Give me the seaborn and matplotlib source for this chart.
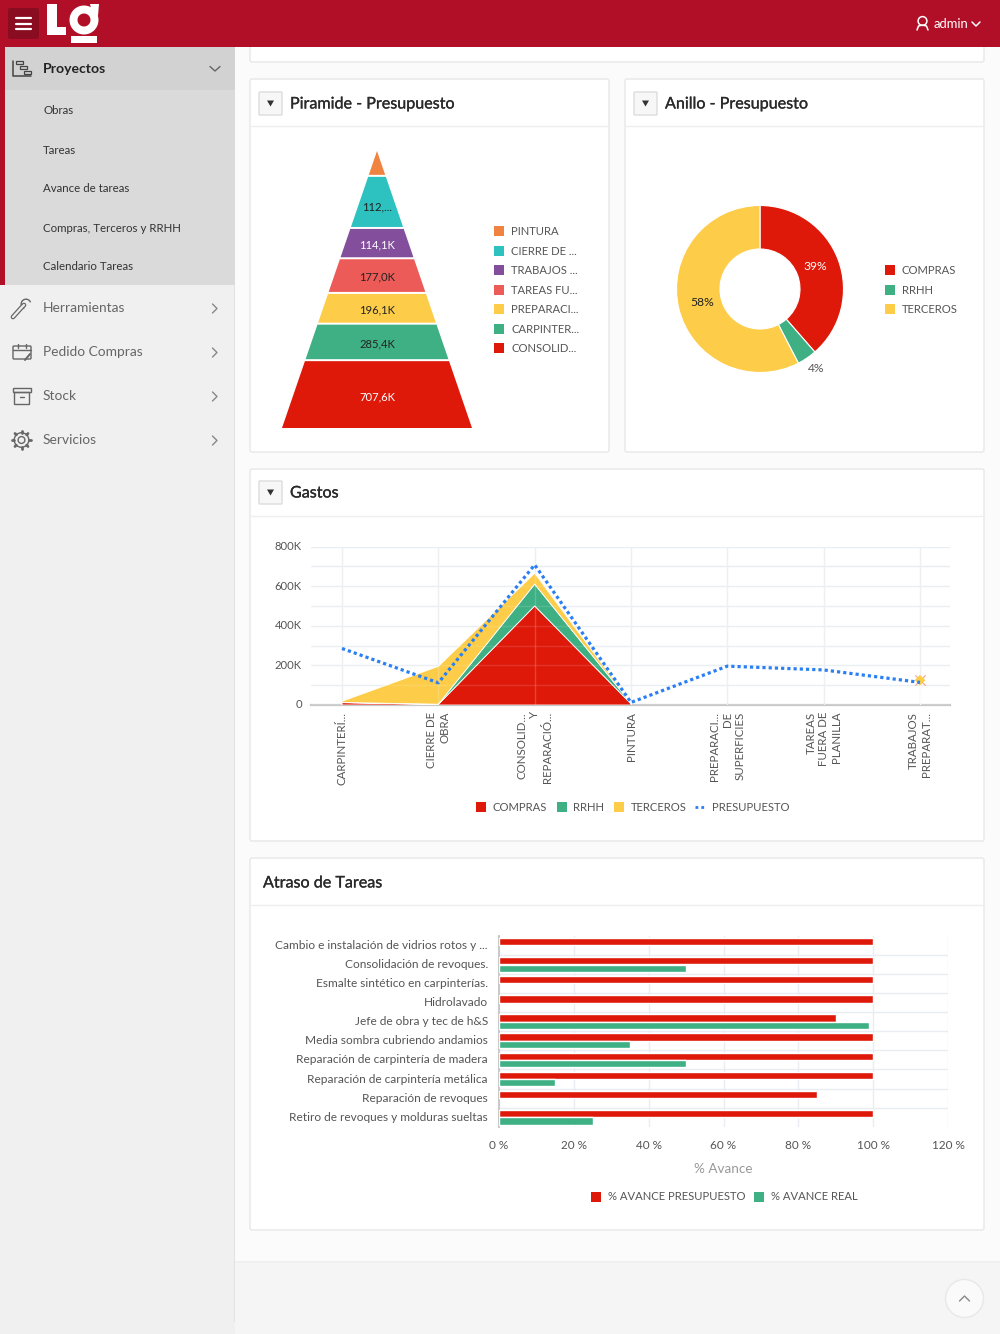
import matplotlib
matplotlib.use("Agg")
import matplotlib.pyplot as plt
import matplotlib.patheffects as pe
from matplotlib.transforms import ScaledTranslation
import numpy as np
import pandas as pd
import seaborn as sns
from matplotlib.patches import Rectangle, Circle, Polygon, Wedge, FancyBboxPatch

# colours
RED = '#de190a'
GREEN = '#3eb084'
YELLOW = '#fdcd49'
CORAL = '#ec5b57'
PURPLE = '#834e9c'
TEAL = '#2dc1bf'
ORANGE = '#f0833f'
BLUE = '#2a7ff5'
HEADER = '#b00f27'
TXT = '#555555'
GRID = '#e9edf1'

# pyramid
pyr_labels = ['PINTURA', 'CIERRE DE ...', 'TRABAJOS ...', 'TAREAS FU...', 'PREPARACI...', 'CARPINTER...', 'CONSOLID...']
pyr_values = [13.0, 112.0, 114.1, 177.0, 196.1, 285.4, 707.6]
pyr_text = ['', '112,...', '114,1K', '177,0K', '196,1K', '285,4K', '707,6K']
pyr_colors = [ORANGE, TEAL, PURPLE, CORAL, YELLOW, GREEN, RED]
pyr_txtcol = ['#222222', '#222222', 'white', '#222222', '#222222', '#222222', 'white']

# ring
ring_labels = ['COMPRAS', 'RRHH', 'TERCEROS']
ring_values = [38.6, 3.8, 57.6]
ring_text = ['39%', '4%', '58%']

# gastos
gastos_cat = ['CARPINTERÍ...', 'CIERRE DE\nOBRA', 'CONSOLID...\nY\nREPARACIÓ...', 'PINTURA',
              'PREPARACI...\nDE\nSUPERFICIES', 'TAREAS\nFUERA DE\nPLANILLA', 'TRABAJOS\nPREPARAT...']
compras = [12, 3, 500, 6, np.nan, np.nan, 0]
rrhh = [1, 1, 110, 2, np.nan, np.nan, 0]
terceros = [6, 191, 55, 2, np.nan, np.nan, 125]
presupuesto = [285.4, 112, 707.6, 13, 196.1, 177, 114.1]
gastos_ticks = [0, 200, 400, 600, 800]
gastos_ticklabels = ['0', '200K', '400K', '600K', '800K']

# atraso
tareas = ['Cambio e instalación de vidrios rotos y ...', 'Consolidación de revoques.',
          'Esmalte sintético en carpinterías.', 'Hidrolavado', 'Jefe de obra y tec de h&S',
          'Media sombra cubriendo andamios', 'Reparación de carpintería de madera',
          'Reparación de carpintería metálica', 'Reparación de revoques',
          'Retiro de revoques y molduras sueltas']
av_presu = [100, 100, 100, 100, 90, 100, 100, 100, 85, 100]
av_real = [np.nan, 50, np.nan, np.nan, 99, 35, 50, 15, np.nan, 25]

menu_sub = ['Obras', 'Tareas', 'Avance de tareas', 'Compras, Terceros y RRHH', 'Calendario Tareas']
menu_main = ['Herramientas', 'Pedido Compras', 'Stock', 'Servicios']

sns.set_theme(style='white')
plt.rcParams['font.family'] = ['Lato', 'DejaVu Sans']

fig = plt.figure(figsize=(10, 13.34), dpi=100)
W, H = 1000, 1334


def px_axes(l, t, r, b, z=2):
    ax = fig.add_axes([l / W, 1 - b / H, (r - l) / W, (b - t) / H], zorder=z)
    ax.patch.set_alpha(0)
    return ax


def fs(px):
    return px * 0.72


bg = px_axes(0, 0, W, H, z=0)
bg.set_xlim(0, W)
bg.set_ylim(H, 0)
bg.axis('off')


def rect(x0, y0, x1, y1, c, ax=bg, **kw):
    ax.add_patch(Rectangle((x0, y0), x1 - x0, y1 - y0, facecolor=c, edgecolor='none', **kw))


def stroke(xs, ys, c='#666666', lw=1.1, ax=bg):
    ax.plot(xs, ys, color=c, lw=lw, solid_capstyle='round', solid_joinstyle='round')


# page
rect(0, 0, W, H, '#fbfbfb')
rect(235, 1262, W, H, '#f5f5f5')
rect(235, 1261, W, 1263, '#f0f0f0')
rect(0, 0, 235, H, '#f0f0f0')
rect(233.5, 47, 235, 1322, '#e2e2e2')
rect(0, 47, 235, 285, '#dadada')
rect(5, 47, 235, 90, '#d2d2d2')
rect(0, 47, 5, 285, HEADER)


def card(x0, y0, x1, y1, sep=None):
    bg.add_patch(FancyBboxPatch((x0, y0), x1 - x0, y1 - y0, boxstyle='round,pad=0,rounding_size=2',
                                facecolor='white', edgecolor='#e8e8e8', lw=1))
    if sep:
        bg.plot([x0, x1], [sep, sep], color='#eeeeee', lw=1)


card(250, 30, 984, 62)
card(250, 79, 609, 452, 126)
card(625, 79, 984, 452, 126)
card(250, 469, 984, 841, 516)
card(250, 858, 984, 1230, 905)
rect(0, 0, W, 47, HEADER, zorder=3)

# header widgets
bg.add_patch(FancyBboxPatch((8, 8), 31, 31, boxstyle='round,pad=0,rounding_size=2', facecolor='#8a0c20', edgecolor='none', zorder=4))
for y in (18, 23.5, 29):
    bg.plot([16, 31], [y, y], color='white', lw=1.6, solid_capstyle='round', zorder=5)
# logo
bg.add_patch(Polygon([(47, 4), (57, 4), (57, 27), (66, 27), (66, 35), (47, 35)], facecolor='white', edgecolor='none', zorder=5))
bg.add_patch(Wedge((84, 20), 14.5, 0, 360, width=8, facecolor='white', edgecolor='none', zorder=5))
bg.add_patch(Polygon([(90, 4), (99, 4), (98, 16), (92, 12)], facecolor='white', edgecolor='none', zorder=5))
rect(71, 36, 97, 43, 'white', zorder=5)
# user
bg.add_patch(Circle((922.5, 21), 4.4, facecolor='none', edgecolor='white', lw=1.1, zorder=5))
bg.plot([917, 918.5, 922.5, 926.5, 928], [30, 26, 25, 26, 30], color='white', lw=1.1, zorder=5)
bg.text(934, 24.5, 'admin', color='white', fontsize=fs(13), va='center', zorder=5)
bg.plot([972, 976, 980], [22, 26, 22], color='white', lw=1.1, zorder=5)

# sidebar
bg.text(43, 69, 'Proyectos', color='#222222', fontsize=fs(14), va='center', fontweight='bold')
stroke([210, 215, 220], [66.5, 71, 66.5], '#666666', 1)
stroke([13, 13, 31], [61, 76, 76], '#444444', 1.1)
for x0, y0 in ((16, 61), (20, 66), (24, 71)):
    bg.add_patch(Rectangle((x0, y0), 6.5, 3, facecolor='none', edgecolor='#444444', lw=0.9))
for i, t in enumerate(menu_sub):
    bg.text(43, 111 + i * 39, t, color='#333333', fontsize=fs(11.5), va='center')
for i, t in enumerate(menu_main):
    y = 308.5 + i * 44
    bg.text(43, y, t, color='#666666', fontsize=fs(13.7), va='center')
    stroke([212.5, 217, 212.5], [y - 4.5, y, y + 4.5], '#888888', 1)
# menu icons
stroke([13, 22, 24], [317, 307, 305], '#666666', 3.4)
stroke([13, 22, 24], [317, 307, 305], '#f0f0f0', 1.6)
bg.add_patch(Wedge((26, 304), 5.5, 110, 340, width=1.4, facecolor='#666666', edgecolor='none'))
bg.add_patch(FancyBboxPatch((13, 346), 18, 13, boxstyle='round,pad=0,rounding_size=1', facecolor='none', edgecolor='#666666', lw=1))
stroke([13, 31], [349.5, 349.5], '#666666', 1)
stroke([18, 18], [344, 347.5], '#666666', 1)
stroke([26, 26], [344, 347.5], '#666666', 1)
stroke([25, 30], [360, 354], '#666666', 1.4)
bg.add_patch(Rectangle((12.5, 388), 18, 4, facecolor='none', edgecolor='#666666', lw=1))
bg.add_patch(Rectangle((14, 392), 15, 12, facecolor='none', edgecolor='#666666', lw=1))
stroke([19.5, 23.5], [396.5, 396.5], '#666666', 1)
bg.add_patch(Circle((21.5, 440), 3.4, facecolor='none', edgecolor='#666666', lw=1))
bg.add_patch(Circle((21.5, 440), 7.3, facecolor='none', edgecolor='#666666', lw=1))
for a in np.arange(0, 360, 45):
    ca, sa = np.cos(np.radians(a)), np.sin(np.radians(a))
    stroke([21.5 + 7.3 * ca, 21.5 + 9.2 * ca], [440 + 7.3 * sa, 440 + 9.2 * sa], '#666666', 2)


# card headers
def card_title(x, y, t, button=True):
    if button:
        bg.add_patch(FancyBboxPatch((x, y - 11.5), 23, 23, boxstyle='round,pad=0,rounding_size=1',
                                    facecolor='#f7f7f7', edgecolor='#dcdcdc', lw=1))
        bg.add_patch(Polygon([(x + 8, y - 3), (x + 15, y - 3), (x + 11.5, y + 3)], facecolor='#333333', edgecolor='none'))
        x += 31
    bg.text(x, y + 1, t, color='#2a2a2a', fontsize=fs(16.1), va='center',
            path_effects=[pe.withStroke(linewidth=0.2, foreground='#2a2a2a')])


card_title(259, 103.5, 'Piramide - Presupuesto')
card_title(634, 103.5, 'Anillo - Presupuesto')
card_title(259, 492.5, 'Gastos')
card_title(263, 882.5, 'Atraso de Tareas', button=False)


def legend_item(x, y, c, t, dotted=False, ax=bg):
    if dotted:
        ax.plot([x - 0.5, x + 9.5], [y, y], color=c, lw=2, ls=(0, (1, 1.1)))
    else:
        rect(x, y - 5, x + 10, y + 5, c, ax=ax)
    ax.text(x + 17, y + 0.5, t, color=TXT, fontsize=fs(11.3), va='center')


# pyramid: slice area goes with the value, edges with sqrt of the running total, 2px gap between slices
PYR_H, PYR_HALF, PYR_GAP = 277, 95, 2
ax = px_axes(282, 151, 472, 428)
ax.set_xlim(-PYR_HALF, PYR_HALF)
ax.set_ylim(PYR_H, 0)
ax.axis('off')
usable = PYR_H - PYR_GAP * (len(pyr_values) - 1)
edges = np.sqrt(np.cumsum([0] + pyr_values) / sum(pyr_values)) * usable
for i, v in enumerate(pyr_values):
    y0 = edges[i] + i * PYR_GAP
    y1 = edges[i + 1] + i * PYR_GAP
    w0 = y0 / PYR_H * PYR_HALF
    w1 = y1 / PYR_H * PYR_HALF
    ax.fill([-w0, w0, w1, -w1], [y0, y0, y1, y1], color=pyr_colors[i], lw=0)
    yc = 2 / 3 * (y1 ** 3 - y0 ** 3) / (y1 ** 2 - y0 ** 2) + 1
    ax.text(0, yc, pyr_text[i], ha='center', va='center', color=pyr_txtcol[i], fontsize=fs(11.2))
for i, (lab, c) in enumerate(zip(pyr_labels, pyr_colors)):
    legend_item(494, 231 + i * 19.55, c, lab)

# ring
ax = px_axes(660, 189, 860, 389)
ax.pie(ring_values, colors=[RED, GREEN, YELLOW], startangle=90, counterclock=False, radius=0.835,
       wedgeprops=dict(width=0.435, edgecolor='white', linewidth=0.8), center=(0, 0))
ax.set_xlim(-1, 1)
ax.set_ylim(-1, 1)
ax.text(0.55, 0.22, ring_text[0], color='white', fontsize=fs(12.1), ha='center', va='center')
ax.text(0.56, -0.8, ring_text[1], color=TXT, fontsize=fs(12.1), ha='center', va='center')
ax.text(-0.58, -0.13, ring_text[2], color='#222222', fontsize=fs(12.1), ha='center', va='center')
for i, (lab, c) in enumerate(zip(ring_labels, [RED, GREEN, YELLOW])):
    legend_item(885, 270 + i * 19.5, c, lab)

# gastos chart
up = ScaledTranslation(0, 1 / 100, fig.dpi_scale_trans)
ax = px_axes(311, 546.5, 950, 705)
pos = np.arange(len(gastos_cat))
step = (920 - 342) / 6
ax.set_xlim(-(342 - 311) / step, 6 + 30 / step)
ax.set_ylim(0, 800)
ax.stackplot(pos, compras, rrhh, terceros, colors=[RED, GREEN, YELLOW], edgecolor='white', linewidth=0.6, zorder=1)
ax.set_yticks(gastos_ticks, gastos_ticklabels)
ax.set_yticks([100, 300, 500, 700], minor=True)
ax.set_xticks(pos, gastos_cat, rotation=90, ha='center', va='top', multialignment='right', linespacing=1.2)
ax.grid(True, which='both', color=GRID, lw=1, zorder=0)
ax.set_axisbelow(True)
# faint grid lines show through the areas in the reference
for x_ in pos:
    ax.axvline(x_, color='white', alpha=0.18, lw=1, zorder=2)
for y_ in [100, 200, 300, 400, 500, 600]:
    ax.axhline(y_, color='white', alpha=0.12, lw=1, zorder=2)
sns.scatterplot(x=[6], y=[terceros[6]], color='#f7a08c', marker='x', s=55, linewidth=0.8, ax=ax, zorder=3)
sns.scatterplot(x=[6], y=[terceros[6]], color=YELLOW, marker='D', s=30, edgecolor='none', ax=ax, zorder=3)
sns.lineplot(x=pos, y=presupuesto, color=BLUE, lw=2.3, ls=(0, (1, 0.95)), ax=ax, zorder=4, clip_on=False)
ax.set_xlabel('')
ax.set_ylabel('')
for s in ('top', 'left', 'right'):
    ax.spines[s].set_visible(False)
ax.spines['bottom'].set_color('#c8c8c8')
ax.spines['bottom'].set_linewidth(1.6)
ax.spines['bottom'].set_zorder(0.5)
ax.tick_params(axis='x', which='major', length=0, pad=5, labelsize=fs(11.5), labelcolor=TXT)
ax.tick_params(axis='y', which='both', length=0, pad=6.5, labelsize=fs(11.3), labelcolor=TXT)
for lab in ax.get_yticklabels():
    lab.set_transform(lab.get_transform() + up)
legend_item(475.5, 807, RED, 'COMPRAS')
legend_item(556.5, 807, GREEN, 'RRHH')
legend_item(614, 807, YELLOW, 'TERCEROS')
legend_item(695, 807, BLUE, 'PRESUPUESTO', dotted=True)

# atraso chart
df = pd.DataFrame({
    'tarea': tareas * 2,
    'avance': av_presu + av_real,
    'serie': ['% AVANCE PRESUPUESTO'] * 10 + ['% AVANCE REAL'] * 10,
})
ax = px_axes(499, 936, 948, 1126.7)
sns.barplot(data=df, y='tarea', x='avance', hue='serie', order=tareas, palette=[RED, GREEN], saturation=1,
            width=0.8, gap=0.06, legend=False, ax=ax, zorder=3)
ax.set_xlim(0, 120)
ax.set_ylim(9.5, -0.5)
ax.set_xticks(range(0, 121, 20), [f'{v} %' for v in range(0, 121, 20)])
ax.set_yticks(np.arange(0.5, 9.5), minor=True)
ax.grid(True, axis='x', color=GRID, lw=1)
ax.grid(True, axis='y', which='minor', color=GRID, lw=1)
ax.grid(False, axis='y', which='major')
ax.set_xlabel('% Avance', color='#999999', fontsize=fs(13.5), labelpad=8.5)
ax.set_ylabel('')
for s in ('top', 'bottom', 'right'):
    ax.spines[s].set_visible(False)
ax.spines['left'].set_color('#c8c8c8')
ax.spines['left'].set_linewidth(1.4)
ax.tick_params(axis='x', which='both', length=0, labelsize=fs(11.7), labelcolor=TXT, pad=9.5)
ax.tick_params(axis='y', which='both', length=0, labelsize=fs(11.9), labelcolor=TXT, pad=8)
for lab in ax.get_yticklabels():
    lab.set_transform(lab.get_transform() + up)
legend_item(590.5, 1196.5, RED, '% AVANCE PRESUPUESTO')
legend_item(754, 1196.5, GREEN, '% AVANCE REAL')

# back to top button
bg.add_patch(Circle((964.5, 1298.5), 19, facecolor='#fafafa', edgecolor='#e8e8e8', lw=1))
stroke([959.5, 964.5, 969.5], [1301, 1296, 1301], '#888888', 1)

fig.savefig('out.png', dpi=100)
